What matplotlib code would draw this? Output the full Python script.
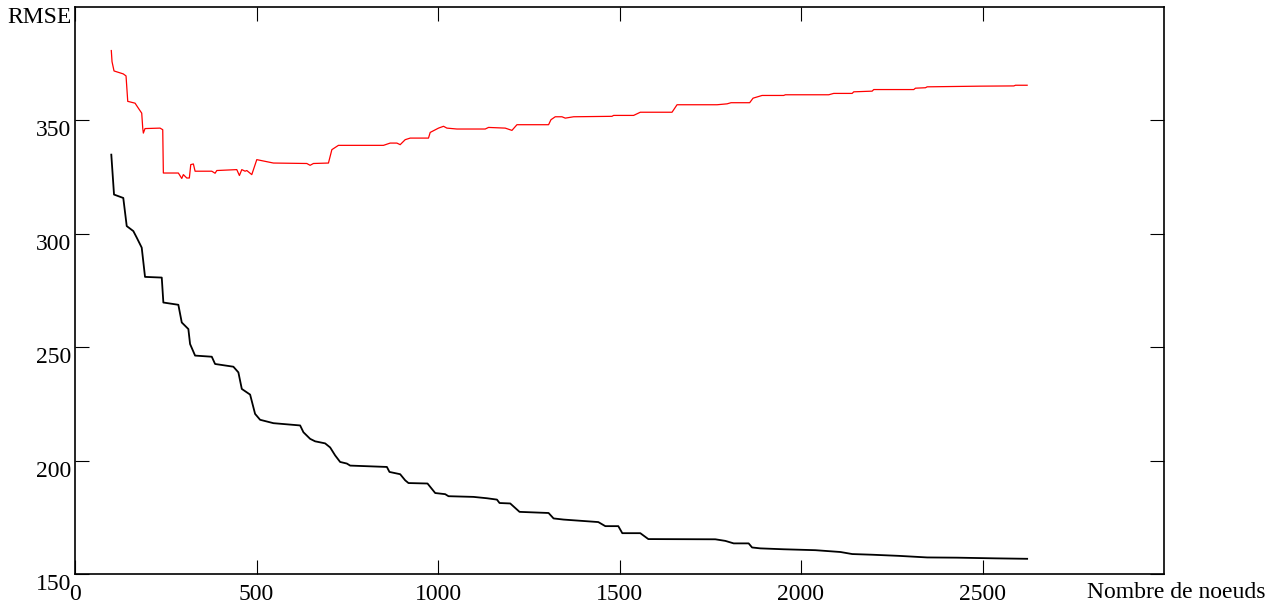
"""RMSE vs nombre de noeuds, two curves (red / black)."""

import matplotlib
matplotlib.use("Agg")
import matplotlib.pyplot as plt

# red curve
red_n = [100, 102, 107.5, 133, 140.6, 145.3, 165.4, 174.5, 183.8, 186.6, 188.3, 192.9,
         234.3, 241.7, 243.4, 284.7, 294.1, 298.5, 307.9, 315, 318.9, 326.1, 330.8,
         376.8, 385.9, 390.6, 445.7, 452.9, 459.5, 468.6, 473.3, 487, 500.8, 509.9,
         546.6, 638.6, 647.7, 656.8, 698.2, 707.6, 725.7, 849.8, 868.2, 886.7, 895.8,
         909.6, 923.4, 973.8, 978.5, 1001.4, 1015.2, 1024.5, 1052.1, 1130.1, 1139.2,
         1185.2, 1203.7, 1217.5, 1304.6, 1311.2, 1323, 1341.5, 1350.6, 1373.5, 1479.3,
         1483.7, 1538.9, 1557.3, 1644.7, 1658.5, 1768.7, 1796.3, 1807.3, 1858.6,
         1867.9, 1892.8, 1952.3, 1957, 2076.3, 2090.1, 2140.9, 2145.3, 2196, 2200.4,
         2310.6, 2315.3, 2342.9, 2347.5, 2494.5, 2586.3, 2590.9, 2623]
red_rmse = [380.8, 375.9, 371.8, 370.5, 369.6, 358.4, 357.6, 355.4, 353.2, 346.6, 344.4,
            346.4, 346.6, 345.9, 326.8, 326.8, 324.4, 326.1, 324.6, 324.6, 330.5, 330.8,
            327.6, 327.6, 326.7, 327.9, 328.3, 325.7, 328.3, 327.6, 327.9, 326.1, 332.7,
            332.4, 331.2, 331.0, 330.2, 331.0, 331.2, 337.1, 339.0, 339.0, 340.0, 340.0,
            339.3, 341.5, 342.2, 342.2, 344.7, 346.6, 347.4, 346.6, 346.2, 346.2, 346.9,
            346.6, 345.6, 348.1, 348.1, 350.3, 351.6, 351.6, 351.0, 351.6, 351.8, 352.2,
            352.2, 353.6, 353.6, 356.9, 356.9, 357.3, 357.8, 357.8, 359.8, 361.0, 361.0,
            361.3, 361.3, 361.9, 361.9, 362.6, 362.9, 363.6, 363.6, 364.2, 364.4, 364.8,
            365.1, 365.2, 365.5, 365.5]

# black curve
black_n = [100, 107.5, 133, 142.5, 160.7, 170.1, 183.8, 192.9, 239, 243.4, 284.7, 294.1,
           312.3, 317, 330.8, 376.8, 385.9, 436.3, 450.1, 459.5, 482.4, 496.1, 509.9,
           546.6, 620.2, 629.3, 647.7, 661.5, 689, 702.9, 716.6, 730.4, 748.9, 758,
           859.2, 866.3, 895.8, 909.6, 918.7, 971.1, 992.3, 1019.8, 1028.9, 1097.8,
           1134.8, 1162.4, 1169.5, 1199, 1224.6, 1304.6, 1318.4, 1345.9, 1441.6, 1460.9,
           1496.7, 1507.7, 1557.3, 1579.4, 1764, 1791.6, 1814.5, 1855.8, 1865.2, 1888,
           1952.3, 2039.7, 2108.6, 2140.9, 2196, 2269.3, 2347.6, 2430.3, 2535.8, 2623]
black_rmse = [334.9, 317.3, 315.8, 303.4, 301.2, 298.3, 293.9, 281.0, 280.7, 269.7, 268.7,
              260.9, 258.0, 251.4, 246.3, 245.8, 242.6, 241.4, 238.9, 231.6, 229.1, 220.6,
              218.0, 216.5, 215.5, 212.5, 209.6, 208.5, 207.6, 205.8, 202.3, 199.4, 198.7,
              197.8, 197.2, 195.0, 194.0, 191.3, 190.1, 189.9, 185.7, 185.2, 184.3, 184.0,
              183.4, 182.8, 181.3, 181.1, 177.4, 176.9, 174.5, 174.0, 172.9, 171.1, 171.1,
              168.0, 168.0, 165.4, 165.3, 164.6, 163.5, 163.5, 161.7, 161.3, 160.9, 160.5,
              159.7, 158.8, 158.5, 158.0, 157.3, 157.2, 156.9, 156.7]

x_ticks = [0, 500, 1000, 1500, 2000, 2500]
y_ticks = [150, 200, 250, 300, 350]

FONT = "Liberation Serif"
FS = 17

fig = plt.figure(figsize=(12.75, 6.05), dpi=100)
ax = fig.add_axes([75 / 1275, 31 / 605, 1089 / 1275, 567 / 605])

ax.plot(red_n, red_rmse, color="red", lw=0.9)
ax.plot(black_n, black_rmse, color="black", lw=1.3)

ax.set_xlim(0, 3000)
ax.set_ylim(150, 400)
ax.set_xticks(x_ticks)
ax.set_yticks(y_ticks)
ax.set_xticklabels([str(v) for v in x_ticks], fontfamily=FONT, fontsize=FS)
ax.set_yticklabels([str(v) for v in y_ticks], fontfamily=FONT, fontsize=FS, va="top")
ax.tick_params(direction="in", length=10, width=0.8, top=True, right=True,
               labeltop=False, labelright=False)
ax.tick_params(axis="x", pad=7)
ax.tick_params(axis="y", pad=3)
for s in ax.spines.values():
    s.set_linewidth(1.2)

fig.text(72 / 1275, 1 - 7 / 605, "RMSE", ha="right", va="top",
         fontfamily=FONT, fontsize=FS)
fig.text(1087 / 1275, 1 - 582 / 605, "Nombre de noeuds", ha="left", va="top",
         fontfamily=FONT, fontsize=FS)

fig.savefig("out.png", dpi=100)
